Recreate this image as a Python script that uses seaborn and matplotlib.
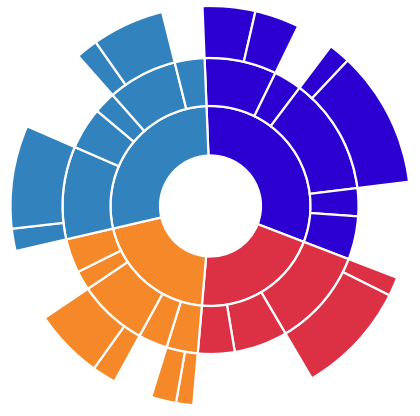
import matplotlib
matplotlib.use("Agg")
import matplotlib.pyplot as plt
import seaborn as sns

sns.set_theme(style="white")

# top level groups, clockwise from just left of 12 o'clock
group_colors = ["#2b00d1", "#dc3045", "#f5892a", "#3182bd"]

# second ring: value of each node and the group it belongs to
mid_values = [28.3, 11, 46, 11, 17,
              38.5, 21, 14.4,
              12.3, 11.4, 27.3, 7.6, 13.4,
              36.5, 16.5, 8.6, 27.4, 11.7]
mid_group = [0, 0, 0, 0, 0,
             1, 1, 1,
             2, 2, 2, 2, 2,
             3, 3, 3, 3, 3]

# third ring: leaves and the second ring node they hang from
outer_values = [15.3, 13, 6.3, 39.7,
                5.5, 33,
                5, 7.3, 7, 20.3,
                6.5, 30, 6.4, 21]
outer_parent = [0, 0, 2, 2,
                5, 5,
                8, 8, 10, 10,
                13, 13, 16, 16]

inner_values = [sum(v for v, g in zip(mid_values, mid_group) if g == i)
                for i in range(len(group_colors))]
mid_colors = [group_colors[g] for g in mid_group]

# outer ring, with empty gaps where a node has no children
ring3_values, ring3_colors = [], []
for i, v in enumerate(mid_values):
    kids = [ov for ov, p in zip(outer_values, outer_parent) if p == i]
    if kids:
        ring3_values += kids
        ring3_colors += [group_colors[mid_group[i]]] * len(kids)
    else:
        ring3_values.append(v)
        ring3_colors.append("none")

fig = plt.figure(figsize=(4.2, 4.16), dpi=100)
ax = fig.add_axes([0, 0, 1, 1])

start = 92.3
wp = dict(edgecolor="white", linewidth=1.6)
ax.pie(inner_values, radius=100, colors=group_colors, startangle=start,
       counterclock=False, wedgeprops=dict(width=49.5, **wp))
ax.pie(mid_values, radius=148, colors=mid_colors, startangle=start,
       counterclock=False, wedgeprops=dict(width=48, **wp))
wedges, _ = ax.pie(ring3_values, radius=200, colors=ring3_colors, startangle=start,
                   counterclock=False, wedgeprops=dict(width=52, **wp))
for w, c in zip(wedges, ring3_colors):
    if c == "none":
        w.set_edgecolor("none")

ax.set_xlim(-210.5, 209.5)
ax.set_ylim(-210, 206)
ax.set_aspect("equal")
ax.axis("off")

fig.savefig("out.png", dpi=100)
